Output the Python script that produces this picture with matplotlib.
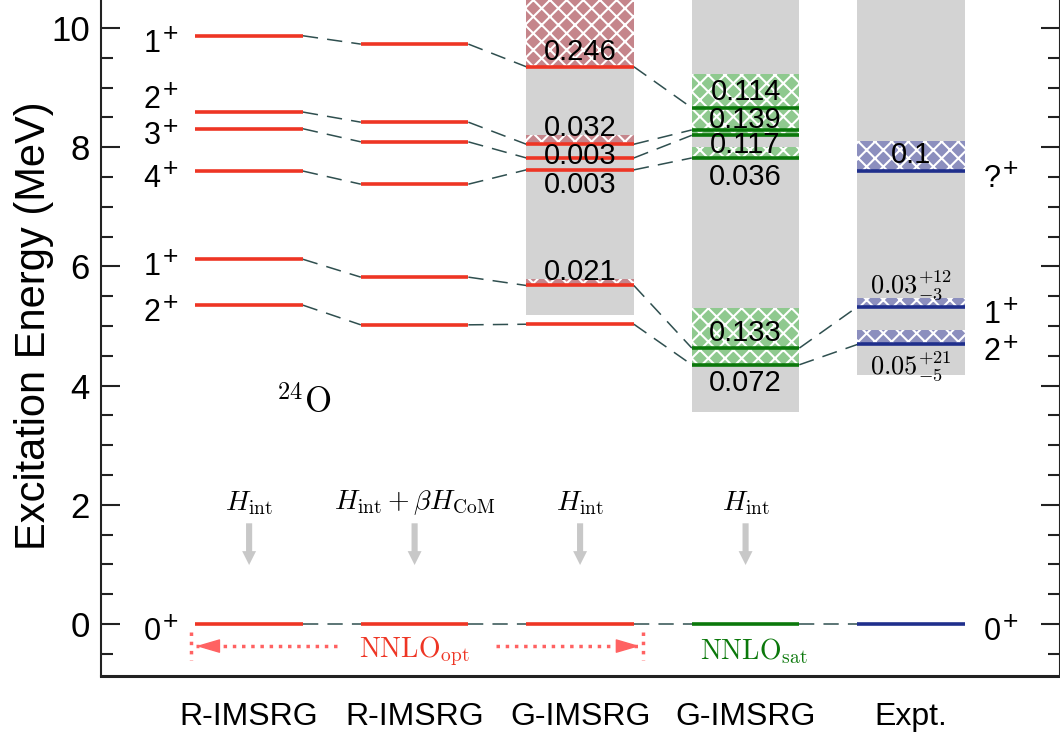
import matplotlib
matplotlib.use('Agg')
import matplotlib.pyplot as plt
from matplotlib.ticker import MultipleLocator

plt.rcParams['font.family'] = 'Liberation Sans'
plt.rcParams['mathtext.fontset'] = 'custom'
plt.rcParams['mathtext.rm'] = 'Liberation Sans'
plt.rcParams['mathtext.it'] = 'Liberation Sans:italic'
plt.rcParams['mathtext.bf'] = 'Liberation Sans:bold'
plt.rcParams['hatch.linewidth'] = 1.5

# ---- data ----
columns = ['R-IMSRG', 'R-IMSRG', 'G-IMSRG', 'G-IMSRG', 'Expt.']
spins = ['0', '2', '1', '4', '3', '2', '1']          # theory states, low -> high
spins_exp = ['0', '2', '1', '?']

E_r1 = [0.0, 5.35, 6.12, 7.60, 8.31, 8.59, 9.87]
E_r2 = [0.0, 5.02, 5.82, 7.38, 8.09, 8.42, 9.73]
E_g1 = [0.0, 5.03, 5.68, 7.62, 7.82, 8.05, 9.35]
E_g2 = [0.0, 4.35, 4.63, 7.82, 8.20, 8.29, 8.66]
E_exp = [0.0, 4.69, 5.32, 7.60]

W_g1 = [0, 0, 0.021, 0.003, 0.003, 0.032, 0.246]
W_g2 = [0, 0.072, 0.133, 0.036, 0.117, 0.139, 0.114]
W_exp = [0, 0.05, 0.03, 0.1]
W_exp_text = ['', r'$0.05^{+21}_{-5}$', r'$0.03^{+12}_{-3}$', '0.1']

gray_bottom = [None, None, 5.19, 3.56, 4.18]
hamiltonians = [r'$H_{\rm int}$', r'$H_{\rm int}+\beta H_{\rm CoM}$',
                r'$H_{\rm int}$', r'$H_{\rm int}$']

# ---- layout ----
levels = [E_r1, E_r2, E_g1, E_g2, E_exp]
widths = [None, None, W_g1, W_g2, W_exp]
line_col = ['#ee3524', '#ee3524', '#ee3524', '#0b780b', '#1f2f8c']
box_col = [None, None, '#c5858b', '#8fc98f', '#8c8fbe']
lab_y = [None, None,
         [None, None, 5.91, 7.37, 7.85, 8.32, 9.60],
         [None, 4.04, 4.88, 7.50, 8.04, 8.46, 8.93],
         [None, 4.33, 5.69, 7.87]]
left_lab_y = [0.0, 5.35, 6.12, 7.60, 8.31, 8.92, 9.87]
hw = 0.325
SCALE = 5.0   # box height = SCALE * width value

fig = plt.figure(figsize=(10.6, 7.4), dpi=100)
ax = fig.add_axes([101 / 1060, 64 / 740, 959 / 1060, 676 / 740])

for k, E in enumerate(levels):
    if gray_bottom[k] is not None:
        ax.bar(k, 12 - gray_bottom[k], bottom=gray_bottom[k], width=2 * hw,
               color='#d3d3d3', linewidth=0, zorder=1)
    if widths[k] is not None:
        for e, w in zip(E, widths[k]):
            if w > 0:
                ax.bar(k, SCALE * w, bottom=e, width=2 * hw, color=box_col[k],
                       edgecolor='white', hatch='xx', linewidth=0, zorder=2)
    ax.hlines(E, k - hw, k + hw, color=line_col[k], lw=2.6, zorder=3)

# dashed connections
pairs = [(0, 1, range(7)), (1, 2, range(7)), (2, 3, range(7)), (3, 4, range(3))]
for a, b, idx in pairs:
    for i in idx:
        ax.plot([a + hw, b - hw], [levels[a][i], levels[b][i]],
                ls=(0, (10, 6)), color='#2f4f4f', lw=1.1, zorder=2)

# width labels
for k in (2, 3):
    for w, y in zip(widths[k], lab_y[k]):
        if y is not None:
            ax.text(k, y, '%.3f' % w, ha='center', va='center', fontsize=21, zorder=5)
for t, y in zip(W_exp_text, lab_y[4]):
    if y is None:
        continue
    if t.startswith('$'):
        ax.text(4, y, t, ha='center', va='center', fontsize=19,
                math_fontfamily='cm', zorder=5)
    else:
        ax.text(4, y, t, ha='center', va='center', fontsize=21, zorder=5)


# spin labels: digit plus a raised "+"
def spin_label(x, y, s):
    ax.text(x, y - 0.13, s, ha='right', va='center', fontsize=22)
    ax.annotate('+', xy=(x, y - 0.13), xytext=(1.5, 7), textcoords='offset points',
                ha='left', va='center', fontsize=19)


for s, y in zip(spins, left_lab_y):
    spin_label(-0.535, y, s)
for s, y in zip(spins_exp, E_exp):
    spin_label(4.54, y, s)

ax.text(0.33, 3.72, r'$^{24}\mathrm{O}$', ha='center', va='center', fontsize=25,
        math_fontfamily='cm')

# hamiltonian labels and arrows
for k, h in enumerate(hamiltonians):
    ax.text(k, 2.03, h, ha='center', va='center', fontsize=20, math_fontfamily='cm')
    ax.annotate('', xy=(k, 0.99), xytext=(k, 1.69),
                arrowprops=dict(arrowstyle='simple,head_width=0.5,head_length=0.5,tail_width=0.22',
                                color='#c8c8c8', lw=0, shrinkA=0, shrinkB=0,
                                mutation_scale=20))

# interaction labels
red_l = '#ff6262'
ax.text(1, -0.45, r'$\mathrm{NNLO}_{\mathrm{opt}}$', ha='center', va='center',
        fontsize=20, color='#ee3524', math_fontfamily='cm')
ax.text(3.05, -0.45, r'$\mathrm{NNLO}_{\mathrm{sat}}$', ha='center', va='center',
        fontsize=20, color='#0b780b', math_fontfamily='cm')
for x0, x1 in [(0.53, -0.32), (1.49, 2.36)]:
    ax.plot([x0, x1], [-0.37, -0.37], ls=':', color=red_l, lw=2.5)
    d = 0.12 if x1 < x0 else -0.12
    ax.annotate('', xy=(x1, -0.37), xytext=(x1 + d, -0.37),
                arrowprops=dict(arrowstyle='-|>,head_width=0.22,head_length=0.75',
                                color=red_l, lw=1, shrinkA=0, shrinkB=0,
                                mutation_scale=20))
for xb in (-0.35, 2.38):
    ax.plot([xb, xb], [-0.13, -0.60], ls=':', color=red_l, lw=2.5)

# axes
ax.set_xlim(-0.895, 4.9)
ax.set_ylim(-0.872, 10.47)
ax.set_xticks(range(len(columns)))
ax.set_xticklabels(columns, fontsize=23)
ax.tick_params(axis='x', length=0, pad=19)
ax.yaxis.set_major_locator(MultipleLocator(2))
ax.yaxis.set_minor_locator(MultipleLocator(0.5))
ax.tick_params(axis='y', which='both', direction='in', right=True,
               width=1.5, color='#222222', labelsize=25, pad=8)
ax.tick_params(axis='y', which='major', length=14)
ax.tick_params(axis='y', which='minor', length=8.5)
ax.spines['top'].set_visible(False)
ax.spines['bottom'].set_linewidth(2.2)
ax.spines['left'].set_linewidth(1.5)
ax.spines['right'].set_linewidth(1.5)
for s in ax.spines.values():
    s.set_color('#222222')
fig.text(34 / 1060, 1 - 326 / 740, 'Excitation Energy (MeV)', rotation=90,
         ha='center', va='center', fontsize=30)

fig.savefig('out.png', dpi=100)
